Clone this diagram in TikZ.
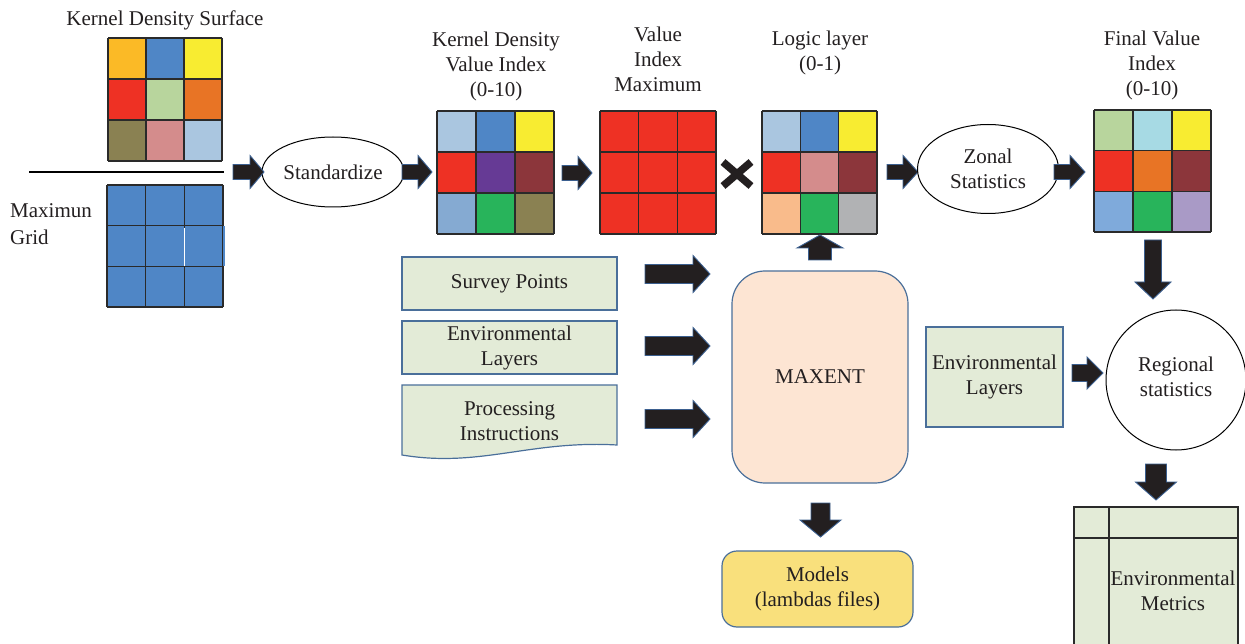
\documentclass[tikz,border=0pt]{standalone}
\usepackage{fontspec}
\setmainfont{Liberation Serif}
\usetikzlibrary{shapes.geometric}
\definecolor{txt}{HTML}{231F20}
\definecolor{arrfill}{HTML}{231F20}
\definecolor{arrline}{HTML}{3B5F8F}
\definecolor{boxline}{HTML}{4A6F9A}
\definecolor{boxfill}{HTML}{E3EBD7}
\definecolor{maxfill}{HTML}{FDE5D3}
\definecolor{modfill}{HTML}{F9E07C}
\definecolor{gridline}{HTML}{2A2A2A}
\definecolor{camber}{HTML}{FBBA26}
\definecolor{cblue}{HTML}{4F86C6}
\definecolor{cyellow}{HTML}{F8EC31}
\definecolor{cred}{HTML}{EE3124}
\definecolor{clgreen}{HTML}{B8D59D}
\definecolor{corange}{HTML}{E87425}
\definecolor{colive}{HTML}{8A8152}
\definecolor{cpink}{HTML}{D48C8C}
\definecolor{clblue}{HTML}{AAC6E0}
\definecolor{cpurple}{HTML}{663A95}
\definecolor{cmaroon}{HTML}{8C363B}
\definecolor{csteel}{HTML}{85AAD2}
\definecolor{cgreen}{HTML}{28B45B}
\definecolor{cpeach}{HTML}{F9BB8B}
\definecolor{cgray}{HTML}{B1B2B4}
\definecolor{ccyan}{HTML}{A7DAE4}
\definecolor{csky}{HTML}{7FAADB}
\definecolor{clav}{HTML}{A99AC6}
% grid: name, x0, y0, x1, y1, colour list
\newcommand{\cgrid}[6]{%
  \pgfmathsetmacro\cw{(#4-#2)/3}%
  \pgfmathsetmacro\ch{(#5-#3)/3}%
  \foreach \c [count=\i from 0] in {#6} {%
    \pgfmathtruncatemacro\col{mod(\i,3)}%
    \pgfmathtruncatemacro\row{\i/3}%
    \fill[\c] ({#2+\col*\cw},{#3+\row*\ch}) rectangle ++(\cw,\ch);
  }%
  \foreach \k in {0,1,2,3} {%
    \draw[cellline] ({#2+\k*\cw},#3) -- ({#2+\k*\cw},#5);
    \draw[cellline] (#2,{#3+\k*\ch}) -- (#4,{#3+\k*\ch});
  }%
  \node[inner sep=0, minimum width={(#4-#2)*1pt}, minimum height={(#5-#3)*1pt}] (#1) at ({(#2+#4)/2},{(#3+#5)/2}) {};%
}
% block arrow: x, y (tail centre), angle, length, shaft half, head half, head length
\newcommand{\blkarrow}[7]{%
  \draw[blk, shift={(#1,#2)}, rotate=#3] (0,-#5) -- ({#4-#7},-#5) -- ({#4-#7},-#6) -- (#4,0) -- ({#4-#7},#6) -- ({#4-#7},#5) -- (0,#5) -- cycle;%
}
\begin{document}
\begin{tikzpicture}[x=1pt,y=-1pt,
  font=\fontsize{21}{25}\selectfont, text=txt,
  cellline/.style={draw=gridline, line width=1.3},
  blk/.style={fill=arrfill, draw=arrline, line width=0.9, line join=miter},
  gbox/.style={draw=boxline, fill=boxfill, line width=1.2},
  lbl/.style={inner sep=0, align=center, anchor=base},
  oval/.style={ellipse, draw=black, line width=1, fill=white, inner sep=0, align=center},
]
\useasboundingbox (0,0) rectangle (1245,644);

% ---- left: kernel density surface and maximum grid
\node[lbl] (tkds) at (165,26) {Kernel Density Surface};
\cgrid{kds}{108}{38}{222}{161}{camber,cblue,cyellow,cred,clgreen,corange,colive,cpink,clblue}
\draw[line width=1.2, black] (29,172) coordinate (hl0) -- (224,172) coordinate (hl1);
\cgrid{mxg}{107}{185}{223}{307}{cblue,cblue,cblue,cblue,cblue,cblue,cblue,cblue,cblue}
\fill[cblue] (223,226.5) rectangle (225,266);
\draw[white, line width=1] (184.8,228) -- (184.8,266);
\node[lbl, anchor=base west] (tmx) at (10,218) {Maximun};
\node[lbl, anchor=base west] (tgr) at (10,245) {Grid};

% ---- standardize
\node[oval, minimum width=142pt, minimum height=70pt] (std) at (333,172) {Standardize};
\blkarrow{233}{172}{0}{31}{7.5}{16.5}{14}
\blkarrow{402}{172}{0}{30}{7.5}{16.5}{14}

% ---- KDVI (anchor = baseline of last line)
\node[lbl] (tkdvi) at (496,97) {Kernel Density\\Value Index\\(0-10)};
\cgrid{kdvi}{437}{111}{554}{234}{clblue,cblue,cyellow,cred,cpurple,cmaroon,csteel,cgreen,colive}
\blkarrow{562}{173}{0}{30}{7.5}{16.5}{14}

% ---- VIM
\node[lbl] (tvim) at (658,92) {Value\\Index\\Maximum};
\cgrid{vim}{600}{111}{716}{234}{cred,cred,cred,cred,cred,cred,cred,cred,cred}

% ---- multiply sign
\draw[line width=7.5, arrfill] (723,162) coordinate (xa) -- (751,186) coordinate (xb);
\draw[line width=7.5, arrfill] (723,186) coordinate (xc) -- (751,162) coordinate (xd);

% ---- logic layer
\node[lbl] (tlog) at (820,71) {Logic layer\\(0-1)};
\cgrid{log}{762}{111}{877}{234}{clblue,cblue,cyellow,cred,cpink,cmaroon,cpeach,cgreen,cgray}
\blkarrow{887}{172}{0}{31}{7.5}{16.5}{15}

% ---- zonal statistics
\node[oval, minimum width=141pt, minimum height=89pt] (zon) at (988,169) {Zonal\\Statistics};
\blkarrow{1054}{172}{0}{31}{7.5}{16.5}{15}

% ---- final value index
\node[lbl] (tfin) at (1152,96) {Final Value\\Index\\(0-10)};
\cgrid{fin}{1094}{110}{1211}{232}{clgreen,ccyan,cyellow,cred,corange,cmaroon,csky,cgreen,clav}
\blkarrow{1153}{240}{-90}{59}{8.5}{18}{17}

% ---- inputs
\node[gbox, minimum width=215pt, minimum height=53pt] (sp) at (509.5,283.5) {Survey Points};
\node[gbox, minimum width=215pt, minimum height=53pt, align=center] (el) at (509.5,347.5) {Environmental\\Layers};
\draw[gbox] (402,385) -- (617,385) -- (617,445) .. controls (530,440) and (480,468) .. (402,455) -- cycle;
\node[inner sep=0, align=center] (pi) at (509.5,421) {Processing\\Instructions};
\blkarrow{645}{274}{0}{65}{9.5}{18.5}{17}
\blkarrow{645}{346}{0}{65}{9.5}{18.5}{17}
\blkarrow{645}{419}{0}{65}{9.5}{18.5}{17}

% ---- MAXENT
\node[draw=boxline, fill=maxfill, line width=1.2, rounded corners=33pt, minimum width=176pt, minimum height=212pt] (mx) at (820,377) {MAXENT};
\blkarrow{820}{260}{90}{25}{11.5}{23}{13}
\blkarrow{820.5}{503}{-90}{34}{9.5}{20.5}{17}
\node[draw=boxline, fill=modfill, line width=1.2, rounded corners=15pt, minimum width=191pt, minimum height=76pt, align=center] (mod) at (817.5,589) {Models\\(lambdas files)};

% ---- regional statistics
\node[gbox, minimum width=137pt, minimum height=100pt, align=center] (el2) at (994.5,377) {Environmental\\Layers};
\blkarrow{1072}{373}{0}{31}{8.5}{16}{16}
\node[circle, draw=black, line width=1, fill=white, minimum size=140pt, inner sep=0, align=center] (reg) at (1176,380) {};
\node[inner sep=0, align=center] (regt) at (1176,377) {Regional\\statistics};
\blkarrow{1156}{464}{-90}{36}{10.5}{20.5}{18}

% ---- environmental metrics table
\draw[draw=gridline, fill=boxfill, line width=1.2] (1074,660) -- (1074,507) -- (1238,507) -- (1238,660);
\draw[draw=gridline, line width=1.2] (1109,507) coordinate (tv0) -- (1109,660) coordinate (tv1);
\draw[draw=gridline, line width=1.2] (1074,538) coordinate (th0) -- (1238,538) coordinate (th1);
\node[inner sep=0, align=center] (em) at (1173,591) {Environmental\\Metrics};
\end{tikzpicture}
\end{document}
